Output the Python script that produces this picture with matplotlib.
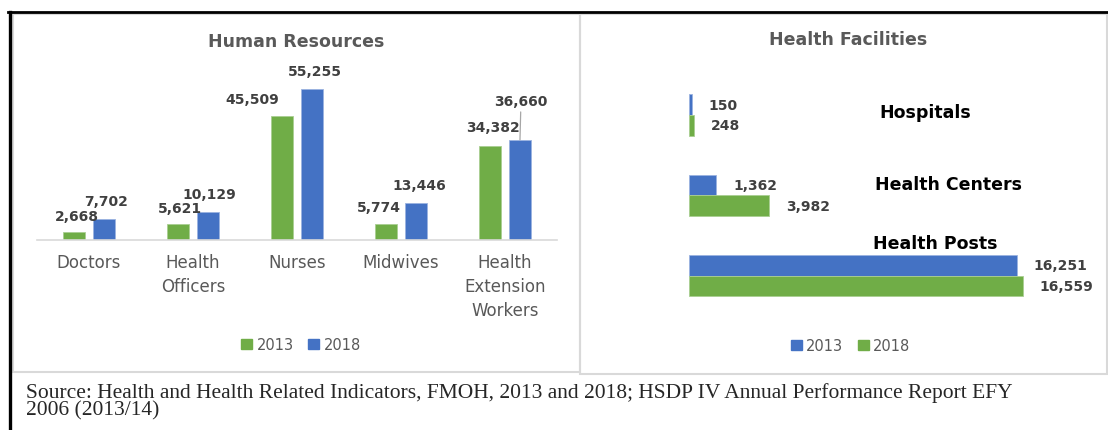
import numpy as np
import matplotlib.pyplot as plt
from matplotlib.patches import Patch, Rectangle
from matplotlib.lines import Line2D

W, H = 1108, 431

# Human resources (left panel)
hr_cats = ['Doctors', 'Health\nOfficers', 'Nurses', 'Midwives', 'Health\nExtension\nWorkers']
hr_2013 = [2668, 5621, 45509, 5774, 34382]
hr_2018 = [7702, 10129, 55255, 13446, 36660]

# Health facilities (right panel)
hf_cats = ['Hospitals', 'Health Centers', 'Health Posts']
hf_2013 = [150, 1362, 16251]
hf_2018 = [248, 3982, 16559]

years = ['2013', '2018']
source = ('Source: Health and Health Related Indicators, FMOH, 2013 and 2018; '
          'HSDP IV Annual Performance Report EFY')
source2 = '2006 (2013/14)'

green = '#70AD47'
blue = '#4472C4'
grey_txt = '#595959'
lab_txt = '#404040'

# label nudges (pixels), the original has hand-placed labels
hr_dx_13 = [3, 2, -30, -7, 3]
hr_dx_18 = [2, 1, 3, 3, 1]
hr_dy_13 = [16, 16, 17, 17, 19]
hr_dy_18 = [18, 18, 18, 18, 39]
hf_lab_dx = [191, 186, 184]
hf_lab_dy = [3, 11, 33]


def box(x0, y0, x1, y1):
    # pixel box (top-left origin) -> figure fraction rect
    return [x0 / W, 1 - y1 / H, (x1 - x0) / W, (y1 - y0) / H]


fig = plt.figure(figsize=(W / 100, H / 100), dpi=100)

# ---- left: grouped columns
ax1 = fig.add_axes(box(37, 60, 557, 240.5))
x = np.arange(len(hr_cats))
w = 0.22
ax1.bar(x - 0.144, hr_2013, w, color=green, edgecolor='#a9cf92', linewidth=0.6)
ax1.bar(x + 0.144, hr_2018, w, color=blue, edgecolor='#9bb3e0', linewidth=0.6)
ax1.set_xlim(-0.5, len(hr_cats) - 0.5)
ax1.set_ylim(0, 180.5 / 0.00272)
for s in ['top', 'right', 'left']:
    ax1.spines[s].set_visible(False)
ax1.spines['bottom'].set_color('#d9d9d9')
ax1.spines['bottom'].set_linewidth(1.2)
ax1.set_yticks([])
ax1.set_xticks(x)
ax1.set_xticklabels(hr_cats, fontsize=12, color=grey_txt, linespacing=1.42)
ax1.tick_params(axis='x', length=0, pad=10)

for i in range(len(hr_cats)):
    ax1.annotate(f'{hr_2013[i]:,}', (x[i] - 0.144, hr_2013[i]),
                 xytext=(hr_dx_13[i], hr_dy_13[i]), textcoords='offset pixels',
                 ha='center', va='center', fontsize=10, fontweight='bold', color=lab_txt)
    arrow = None
    if hr_dy_18[i] > 25:
        arrow = dict(arrowstyle='-', color='#a6a6a6', lw=0.9, shrinkA=1, shrinkB=0)
    ax1.annotate(f'{hr_2018[i]:,}', (x[i] + 0.144, hr_2018[i]),
                 xytext=(hr_dx_18[i], hr_dy_18[i]), textcoords='offset pixels',
                 ha='center', va='center', fontsize=10, fontweight='bold', color=lab_txt,
                 arrowprops=arrow)

fig.text(296 / W, 1 - 42 / H, 'Human Resources', ha='center', va='center',
         fontsize=12.5, fontweight='bold', color=grey_txt)
fig.legend(handles=[Patch(color=green, label=years[0]), Patch(color=blue, label=years[1])],
           loc='center', bbox_to_anchor=(301 / W, 1 - 345.5 / H), ncol=2, frameon=False,
           fontsize=10.5, handlelength=0.75, handleheight=0.75, handletextpad=0.3,
           columnspacing=1.0, labelcolor=grey_txt)

# ---- right: horizontal bars
ax2 = fig.add_axes(box(688.8, 75.8, 1090, 316.9))
y = np.arange(len(hf_cats))
h = 0.258
ax2.barh(y - h / 2, hf_2013, h, color=blue, edgecolor='#9bb3e0', linewidth=0.6)
ax2.barh(y + h / 2, hf_2018, h, color=green, edgecolor='#a9cf92', linewidth=0.6)
ax2.set_xlim(0, 401.2 / 0.02017)
ax2.set_ylim(len(hf_cats) - 0.5, -0.5)
ax2.axis('off')

for i in range(len(hf_cats)):
    ax2.annotate(f'{hf_2013[i]:,}', (hf_2013[i], y[i] - h / 2), xytext=(17, 0),
                 textcoords='offset pixels', ha='left', va='center',
                 fontsize=10, fontweight='bold', color=lab_txt)
    ax2.annotate(f'{hf_2018[i]:,}', (hf_2018[i], y[i] + h / 2), xytext=(17, 0),
                 textcoords='offset pixels', ha='left', va='center',
                 fontsize=10, fontweight='bold', color=lab_txt)
    ax2.annotate(hf_cats[i], (0, y[i]), xytext=(hf_lab_dx[i], hf_lab_dy[i]),
                 textcoords='offset pixels', ha='left', va='center',
                 fontsize=12.5, fontweight='bold', color='black')

fig.text(848 / W, 1 - 40 / H, 'Health Facilities', ha='center', va='center',
         fontsize=12.5, fontweight='bold', color=grey_txt)
fig.legend(handles=[Patch(color=blue, label=years[0]), Patch(color=green, label=years[1])],
           loc='center', bbox_to_anchor=(850.5 / W, 1 - 346.7 / H), ncol=2, frameon=False,
           fontsize=10.5, handlelength=0.75, handleheight=0.75, handletextpad=0.3,
           columnspacing=1.0, labelcolor=grey_txt)

# ---- panel frames
fig.add_artist(Rectangle((13 / W, 1 - 373 / H), (580 - 13) / W, (373 - 15) / H,
                         transform=fig.transFigure, fill=False, edgecolor='#d9d9d9', lw=1.5))
fig.add_artist(Rectangle((580 / W, 1 - 375 / H), (1107 - 580) / W, (375 - 15) / H,
                         transform=fig.transFigure, fill=False, edgecolor='#d9d9d9', lw=1.5))
fig.add_artist(Line2D([8 / W, 1], [1 - 13 / H] * 2, color='black', lw=2, transform=fig.transFigure))
fig.add_artist(Line2D([10 / W] * 2, [1 - 13 / H, 0], color='black', lw=2.4, transform=fig.transFigure))

# ---- source note
fig.text(26 / W, 1 - 398 / H, source, ha='left', va='baseline', fontsize=15.5,
         family='Liberation Serif', color='#262626')
fig.text(26 / W, 1 - 415 / H, source2, ha='left', va='baseline', fontsize=15.5,
         family='Liberation Serif', color='#262626')

fig.savefig('out.png', dpi=100)
